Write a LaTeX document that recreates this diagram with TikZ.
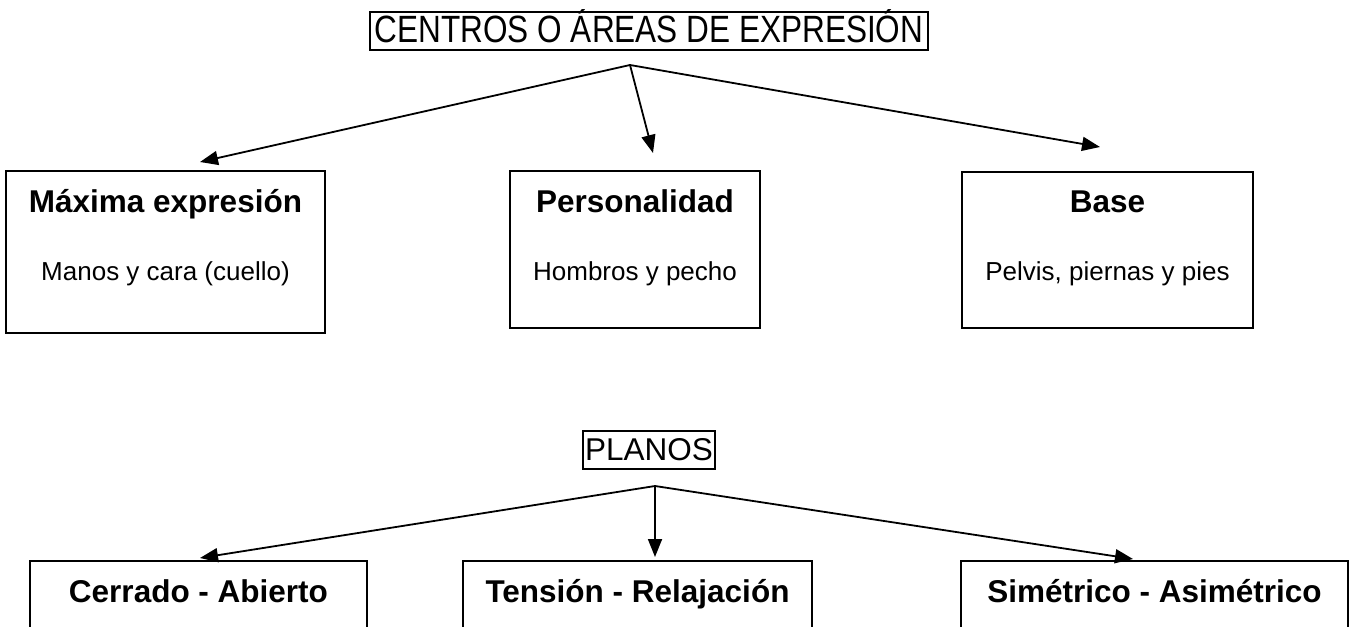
\documentclass[tikz,border=0pt]{standalone}
\usepackage{fontspec}
\setmainfont{Liberation Sans}
\newfontfamily\narrowsans[FakeStretch=0.83]{Liberation Sans}
\usetikzlibrary{arrows.meta}
\usetikzlibrary{positioning}
\tikzset{basic box/.style={draw,rectangle,line width=2pt,inner sep=0pt}}
\tikzset{title box/.style={basic box,anchor=base}}
\tikzset{link/.style={draw,line width=1.8pt,-{Triangle[length=18pt,width=14pt]}}}
\newcommand{\HEADFONT}{\fontsize{31.5}{36}\selectfont\bfseries}
\newcommand{\BODYFONT}{\fontsize{26}{30}\selectfont}

\begin{document}
\begin{tikzpicture}[x=1pt,y=-1pt]
  \clip (0,0) rectangle (1356,626);

  % titles
  \node [title box,minimum width=558pt,text height=31pt,text depth=7pt,
  font=\narrowsans\fontsize{38}{42}\selectfont] (centros) at (649,43)
  {CENTROS O ÁREAS DE EXPRESIÓN};
  \node [title box,minimum width=132pt,text height=29.5pt,text depth=8.5pt,
  font=\fontsize{31.5}{36}\selectfont] (planos) at (649,460.7) {PLANOS};

  % upper boxes
  \foreach \n/\x/\y/\w/\h/\head/\sub in
  {
  maxima/165.5/252/319/162/{Máxima expresión}/{Manos y cara (cuello)},
  persona/635/249.5/250/157/{Personalidad}/{Hombros y pecho},
  base/1107.5/250/291/156/{Base}/{Pelvis, piernas y pies}
  }
  {
  \node [basic box,minimum width=\w pt,minimum height=\h pt] (\n) at (\x,\y) {};
  \node [anchor=base,font=\HEADFONT] (\n-h) at (\x,212) {\head};
  \node [anchor=base,font=\BODYFONT] (\n-s) at (\x,280) {\sub};
  }

  % lower boxes
  \foreach \n/\x/\w/\head in
  {
  cerrado/198.5/337/{Cerrado - Abierto},
  tension/637.5/349/{Tensión - Relajación},
  simetrico/1154.5/387/{Simétrico - Asimétrico}
  }
  {
  \node [basic box,minimum width=\w pt,minimum height=140pt] (\n) at (\x,631) {};
  \node [anchor=base,font=\HEADFONT] (\n-h) at (\x,602) {\head};
  }

  % edges
  \coordinate (top) at (630,65);
  \coordinate (maxima-in) at (200,162);
  \coordinate (persona-in) at (653,153);
  \coordinate (base-in) at (1100,147);
  \draw [link] (top) -- (maxima-in);
  \draw [link] (top) -- (persona-in);
  \draw [link] (top) -- (base-in);

  \coordinate (low) at (655,486);
  \coordinate (cerrado-in) at (200,558);
  \coordinate (tension-in) at (655,557);
  \coordinate (simetrico-in) at (1133,559);
  \draw [link] (low) -- (cerrado-in);
  \draw [link] (low) -- (tension-in);
  \draw [link] (low) -- (simetrico-in);

\end{tikzpicture}
\end{document}
